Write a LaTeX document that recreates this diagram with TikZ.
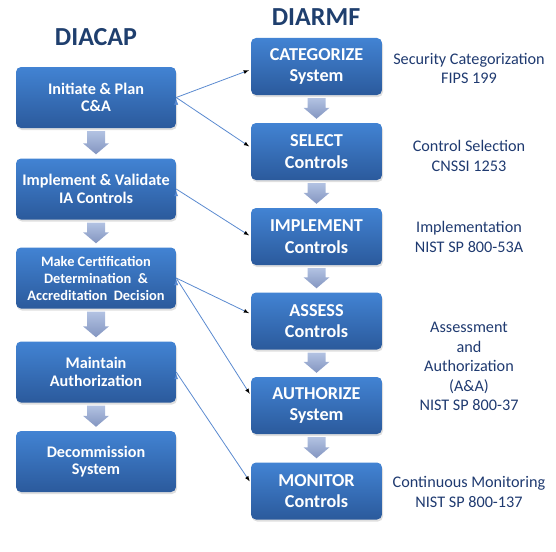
\documentclass[tikz,border=0pt]{standalone}
\usepackage{fontspec}
\setmainfont{Carlito}
\usetikzlibrary{shapes,shadows,calc}

\definecolor{boxtop}{HTML}{4283D3}
\definecolor{boxbot}{HTML}{2B5A9C}
\definecolor{arrtop}{HTML}{B2C2E2}
\definecolor{arrbot}{HTML}{8395C0}
\definecolor{linkblue}{HTML}{5A8AD0}
\definecolor{titleblue}{HTML}{1F3F6E}
\definecolor{labelblue}{HTML}{1F3A70}

\begin{document}
\begin{tikzpicture}[x=1pt,y=-1pt,->,>=latex]
   \useasboundingbox (0,0) rectangle (556,551);
   \tikzstyle{stage}=[rectangle, rounded corners=5pt, top color=boxtop, bottom color=boxbot,
      text=white, align=center, inner sep=0pt,
      drop shadow={opacity=0.25, shadow xshift=1pt, shadow yshift=-2pt}]
   \tikzstyle{old}=[stage, minimum width=160pt, minimum height=61pt, font=\fontsize{16.2}{17.5}\selectfont\bfseries]
   \tikzstyle{new}=[stage, minimum width=131pt, minimum height=57pt, font=\fontsize{18.2}{21.5}\selectfont\bfseries]
   \tikzstyle{head}=[text=titleblue, font=\fontsize{26}{30}\selectfont\bfseries]
   \tikzstyle{ref}=[text=labelblue, align=center, font=\fontsize{16.2}{19.5}\selectfont]
   \tikzstyle{link}=[draw=linkblue, line width=0.8pt, shorten >=2pt]
   % titles
   \node[head] (diacap) at (96,37) {DIACAP};
   \node[head] (diarmf) at (316,17) {DIARMF};
   % DIACAP steps
   \node[old] (l1) at (96,97.5) {Initiate \& Plan\\C\&A};
   \node[old] (l2) at (96,189) {Implement \& Validate\\IA Controls};
   \node[old, font=\fontsize{14.4}{17}\selectfont\bfseries] (l3) at (96,278)
      {Make Certification\\Determination~~\&\\Accreditation~~Decision};
   \node[old] (l4) at (96,372) {Maintain\\Authorization};
   \node[old] (l5) at (96,461.5) {Decommission\\System};
   % DIARMF steps
   \node[new] (r1) at (316.5,66.5) {CATEGORIZE\\System};
   \node[new] (r2) at (316.5,151.5) {SELECT\\Controls};
   \node[new] (r3) at (316.5,236.5) {IMPLEMENT\\Controls};
   \node[new] (r4) at (316.5,321) {ASSESS\\Controls};
   \node[new] (r5) at (316.5,405.5) {AUTHORIZE\\System};
   \node[new] (r6) at (316.5,491) {MONITOR\\Controls};
   % references
   \node[ref] (c1) at (469,68.5) {Security Categorization\\FIPS 199};
   \node[ref] (c2) at (469,156) {Control Selection\\CNSSI 1253};
   \node[ref] (c3) at (469,237) {Implementation\\NIST SP 800-53A};
   \node[ref] (c4) at (469,366.5) {Assessment\\and\\Authorization\\(A\&A)\\NIST SP 800-37};
   \node[ref] (c5) at (469,492) {Continuous Monitoring\\NIST SP 800-137};
   % block arrows
   \foreach \a/\b in {l1/l2,l2/l3,l3/l4,l4/l5,r1/r2,r2/r3,r3/r4,r4/r5,r5/r6} {
       \shade[-, top color=arrtop, bottom color=arrbot]
          let \p1=(\a.south), \p2=(\b.north) in
          (\x1-9pt,\y1-3pt) -- (\x1+9pt,\y1-3pt) -- (\x1+9pt,\y2+15pt) -- (\x1+13pt,\y2+15pt)
          -- (\x1,\y2+4pt) -- (\x1-13pt,\y2+15pt) -- (\x1-9pt,\y2+15pt) -- cycle;
   }
   % mapping
   \path[link] (l1.east) edge ([yshift=-3pt]r1.west);
   \path[link] (l1.east) edge ([yshift=4pt]r2.west);
   \path[link] (l2.east) edge (r3.west);
   \path[link] (l3.east) edge ([yshift=7pt]r4.west);
   \path[link] (l3.east) edge ([yshift=10pt]r5.west);
   \path[link] (l4.east) edge ([yshift=8pt]r6.west);
\end{tikzpicture}
\end{document}
